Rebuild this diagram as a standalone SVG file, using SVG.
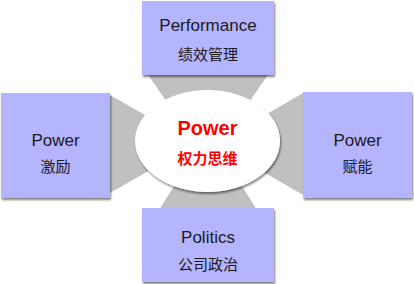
<svg xmlns="http://www.w3.org/2000/svg" width="414" height="284" viewBox="0 0 414 284">
  <defs>
    <filter id="sh" x="-10%" y="-10%" width="130%" height="130%">
      <feGaussianBlur in="SourceAlpha" stdDeviation="1"/>
      <feOffset dx="1" dy="1.5" result="b"/>
      <feComponentTransfer><feFuncA type="linear" slope="0.5"/></feComponentTransfer>
      <feMerge><feMergeNode/><feMergeNode in="SourceGraphic"/></feMerge>
    </filter>
  </defs>
  <style>
    .arm { fill: #C0C0C0; }
    .box { fill: #B4B4FF; filter: url(#sh); }
    .t { font-family: "Liberation Sans", Arial, sans-serif; font-size: 17px; fill: #1a1a1a; text-anchor: middle; }
    .c { font-family: "Noto Sans CJK SC", "Liberation Sans", sans-serif; font-size: 15px; fill: #1a1a1a; text-anchor: middle; }
    .rt { font-family: "Liberation Sans", Arial, sans-serif; font-size: 20px; font-weight: bold; fill: #FF0000; text-anchor: middle; }
    .rc { font-family: "Noto Sans CJK SC", "Liberation Sans", sans-serif; font-size: 15px; font-weight: bold; fill: #FF0000; text-anchor: middle; }
  </style>
  <g id="connectors">
    <polygon class="arm" points="142,66 274,66 223,140 193,140"/>
    <polygon class="arm" points="203,140 213,140 262,218 154,218"/>
    <polygon class="arm" points="108,93.9 190,140.6 190,147.4 108,194.1"/>
    <polygon class="arm" points="304,92.4 225,138.2 225,149.8 304,195.6"/>
  </g>
  <g id="center">
    <ellipse cx="207.5" cy="141" rx="72.5" ry="51" fill="#FFFFFF" filter="url(#sh)"/>
    <text class="rt" x="207.5" y="135">Power</text>
    <text class="rc" x="207.5" y="164">权力思维</text>
  </g>
  <g id="performance">
    <rect class="box" x="142" y="1" width="132" height="74"/>
    <text class="t" x="208" y="31">Performance</text>
    <text class="c" x="208" y="60">绩效管理</text>
  </g>
  <g id="incentive">
    <rect class="box" x="1" y="93" width="109" height="105"/>
    <text class="t" x="55.5" y="146">Power</text>
    <text class="c" x="55.5" y="172">激励</text>
  </g>
  <g id="empower">
    <rect class="box" x="303" y="92" width="109" height="106"/>
    <text class="t" x="357.5" y="146">Power</text>
    <text class="c" x="357.5" y="172">赋能</text>
  </g>
  <g id="politics">
    <rect class="box" x="142" y="208" width="132" height="74"/>
    <text class="t" x="208" y="243">Politics</text>
    <text class="c" x="208" y="270">公司政治</text>
  </g>
</svg>
